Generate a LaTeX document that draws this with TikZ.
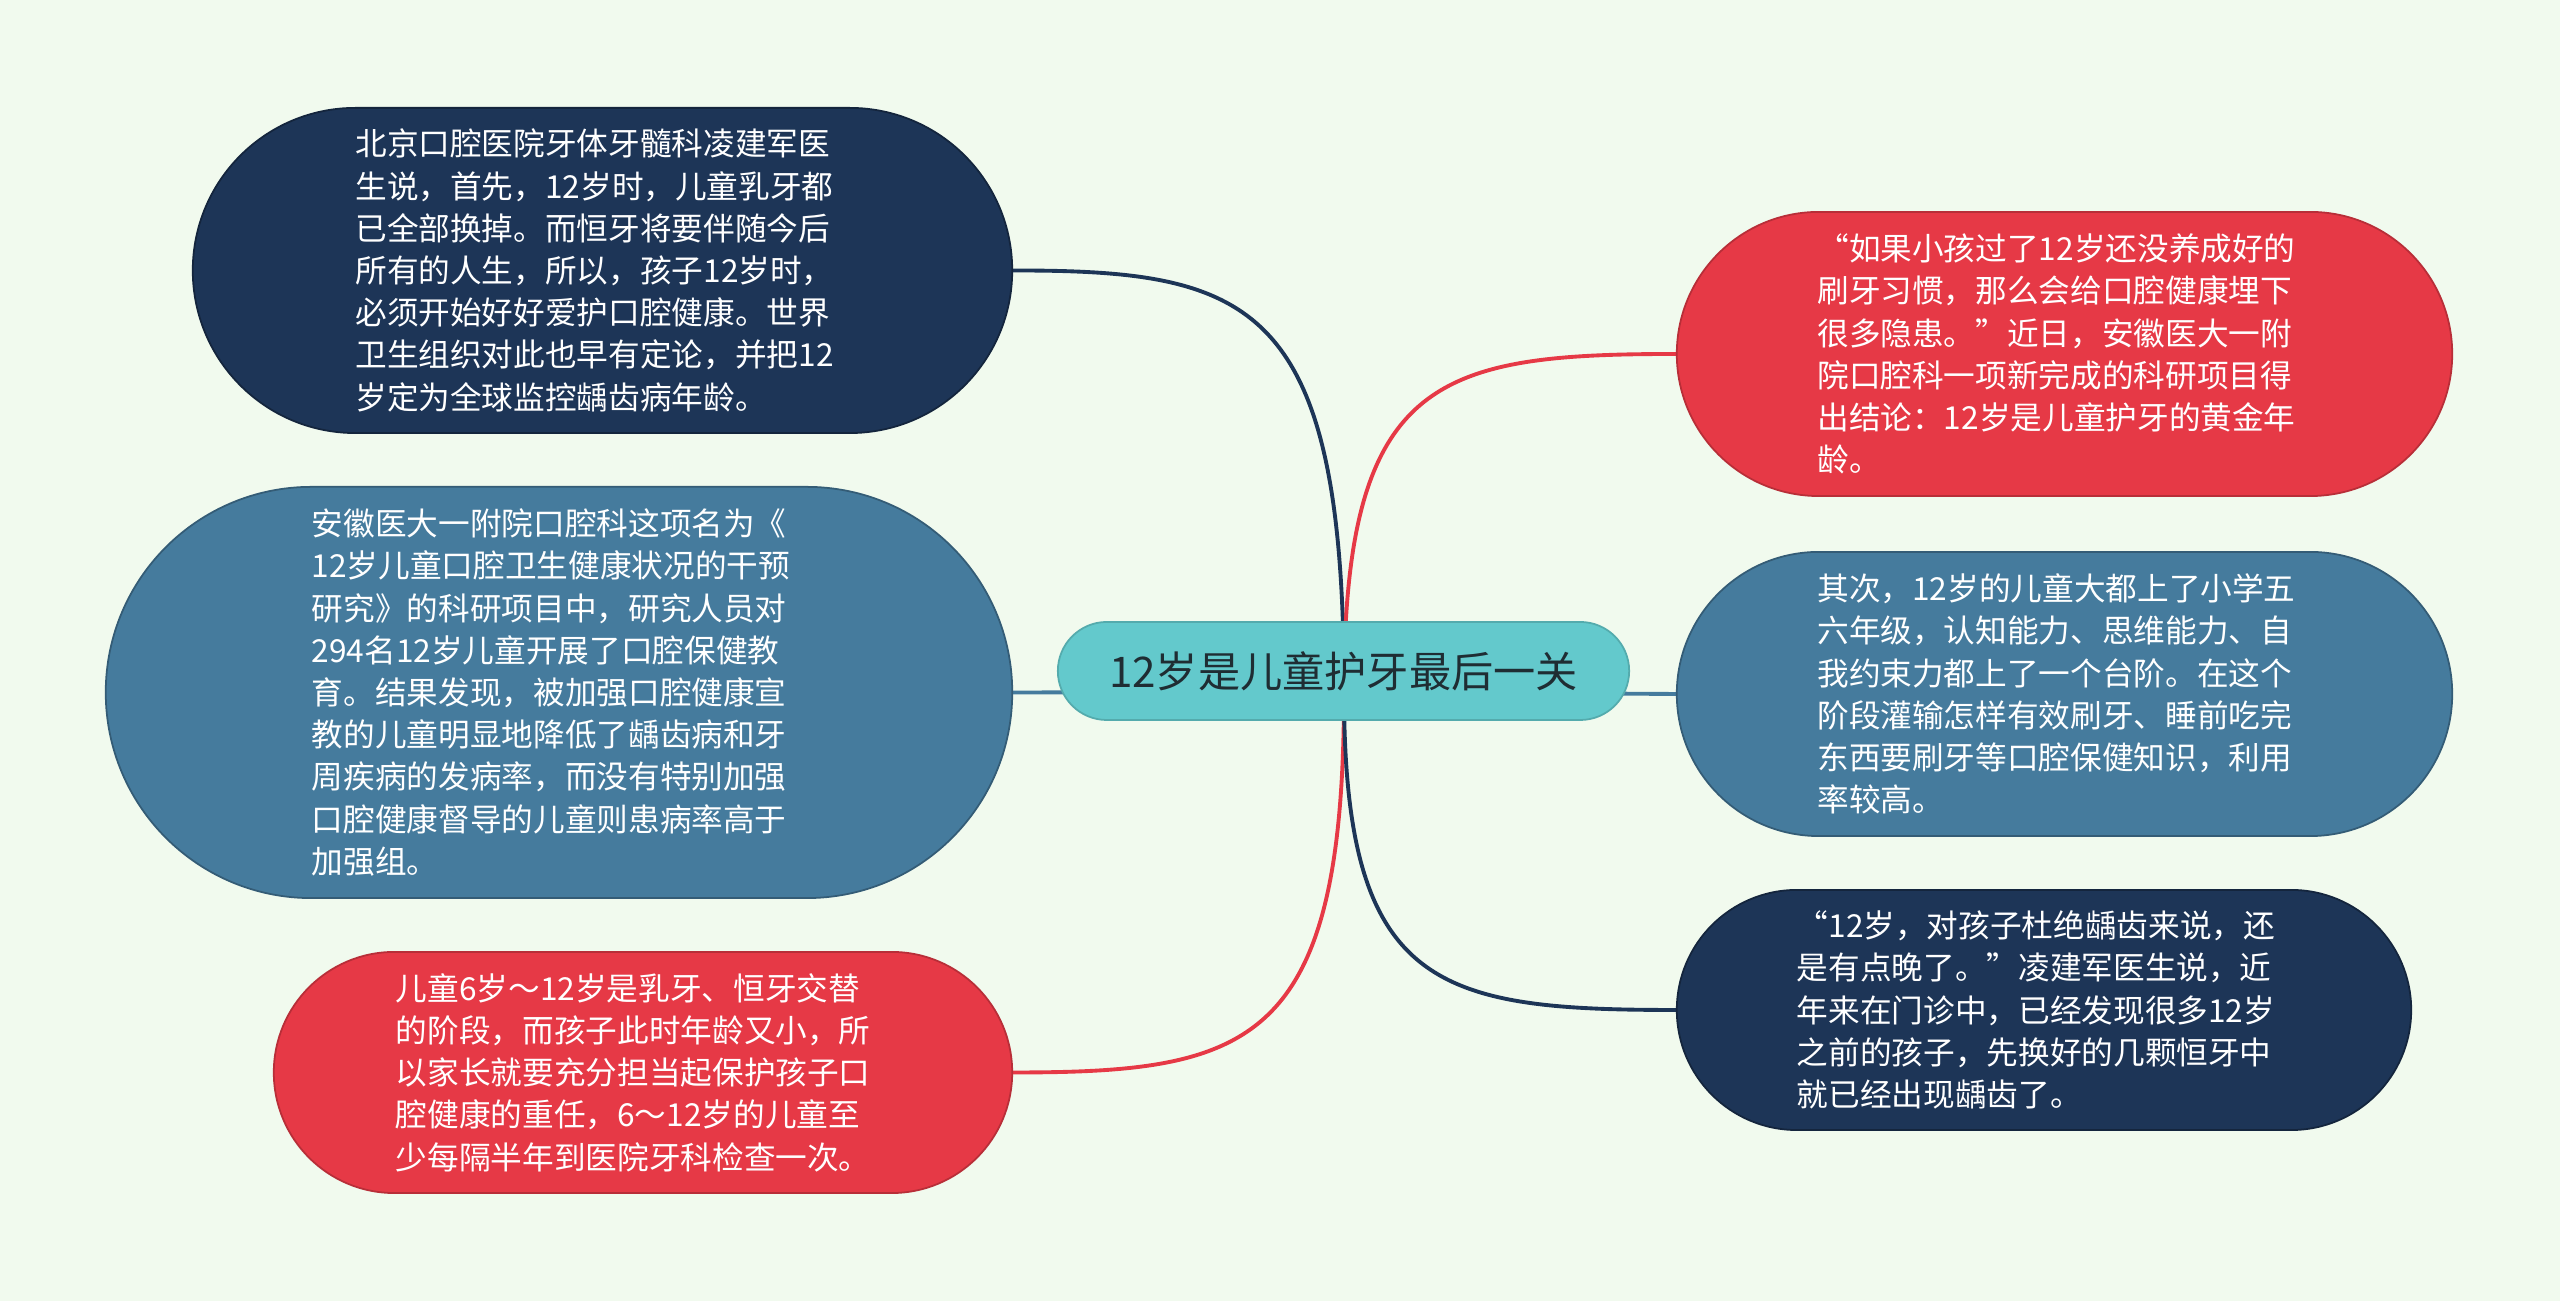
\documentclass[tikz,border=0pt]{standalone}
\usepackage{fontspec}
\newfontfamily\cjk{Noto Sans CJK SC}
\usetikzlibrary{backgrounds}
\definecolor{mapbg}{HTML}{F1FAEE}
\definecolor{navy}{HTML}{1D3557}
\definecolor{steel}{HTML}{457B9D}
\definecolor{coral}{HTML}{E63946}
\definecolor{rootteal}{HTML}{63C9CC}
\definecolor{roottext}{HTML}{1F2D33}

\begin{document}
\begin{tikzpicture}[x=0.01cm, y=0.01cm, line join=round, line cap=round,
  link/.style={line width=1.1pt},
  bubble/.style 2 args={rectangle, minimum width=#1, minimum height=#2,
    rounded corners=#2/2, inner sep=0pt, line width=0.5pt, align=left,
    text width=4.94cm, text=white, font=\cjk\fontsize{9}{12}\selectfont}]
	% topics
	\node[bubble={8.19cm}{3.25cm}, fill=navy, draw=navy!70!black] (kid1) at (602.5,1030.5) {北京口腔医院牙体牙髓科凌建军医\\生说，首先，12岁时，儿童乳牙都\\已全部换掉。而恒牙将要伴随今后\\所有的人生，所以，孩子12岁时，\\必须开始好好爱护口腔健康。世界\\卫生组织对此也早有定论，并把12\\岁定为全球监控龋齿病年龄。};
	\node[bubble={9.06cm}{4.11cm}, fill=steel, draw=steel!75!black] (kid2) at (559,608.5) {安徽医大一附院口腔科这项名为《\\12岁儿童口腔卫生健康状况的干预\\研究》的科研项目中，研究人员对\\294名12岁儿童开展了口腔保健教\\育。结果发现，被加强口腔健康宣\\教的儿童明显地降低了龋齿病和牙\\周疾病的发病率，而没有特别加强\\口腔健康督导的儿童则患病率高于\\加强组。};
	\node[bubble={7.38cm}{2.41cm}, fill=coral, draw=coral!80!black] (kid3) at (643,228.5) {儿童6岁～12岁是乳牙、恒牙交替\\的阶段，而孩子此时年龄又小，所\\以家长就要充分担当起保护孩子口\\腔健康的重任，6～12岁的儿童至\\少每隔半年到医院牙科检查一次。};
	\node[bubble={7.75cm}{2.84cm}, fill=coral, draw=coral!80!black] (kid4) at (2064.5,947) {“如果小孩过了12岁还没养成好的\\刷牙习惯，那么会给口腔健康埋下\\很多隐患。”近日，安徽医大一附\\院口腔科一项新完成的科研项目得\\出结论：12岁是儿童护牙的黄金年\\龄。};
	\node[bubble={7.75cm}{2.84cm}, fill=steel, draw=steel!75!black] (kid5) at (2064.5,607) {其次，12岁的儿童大都上了小学五\\六年级，认知能力、思维能力、自\\我约束力都上了一个台阶。在这个\\阶段灌输怎样有效刷牙、睡前吃完\\东西要刷牙等口腔保健知识，利用\\率较高。};
	\node[bubble={7.34cm}{2.40cm}, fill=navy, draw=navy!70!black] (kid6) at (2044,291) {“12岁，对孩子杜绝龋齿来说，还\\是有点晚了。”凌建军医生说，近\\年来在门诊中，已经发现很多12岁\\之前的孩子，先换好的几颗恒牙中\\就已经出现龋齿了。};
	% root
	\node[bubble={5.71cm}{0.98cm}, fill=rootteal, draw=rootteal!85!black, text=roottext,
	  text width=, align=center, font=\cjk\fontsize{12}{14}\selectfont] (root) at (1343.5,630) {12岁是儿童护牙最后一关};
	\coordinate (hub) at (1344,609);
	\begin{scope}[on background layer]
		\fill[mapbg] (0,0) rectangle (2560,1301);
		\draw[link, navy] (hub) .. controls +(0,392) and +(238,0) .. (kid1.east);
		\draw[link, steel] (hub) -- (kid2.east);
		\draw[link, coral] (hub) .. controls +(0,-354) and +(238,0) .. (kid3.east);
		\draw[link, coral] (hub) .. controls +(0,314) and +(-240,0) .. (kid4.west);
		\draw[link, steel] (hub) -- (kid5.west);
		\draw[link, navy] (hub) .. controls +(0,-296) and +(-240,0) .. (kid6.west);
	\end{scope}
\end{tikzpicture}
\end{document}
